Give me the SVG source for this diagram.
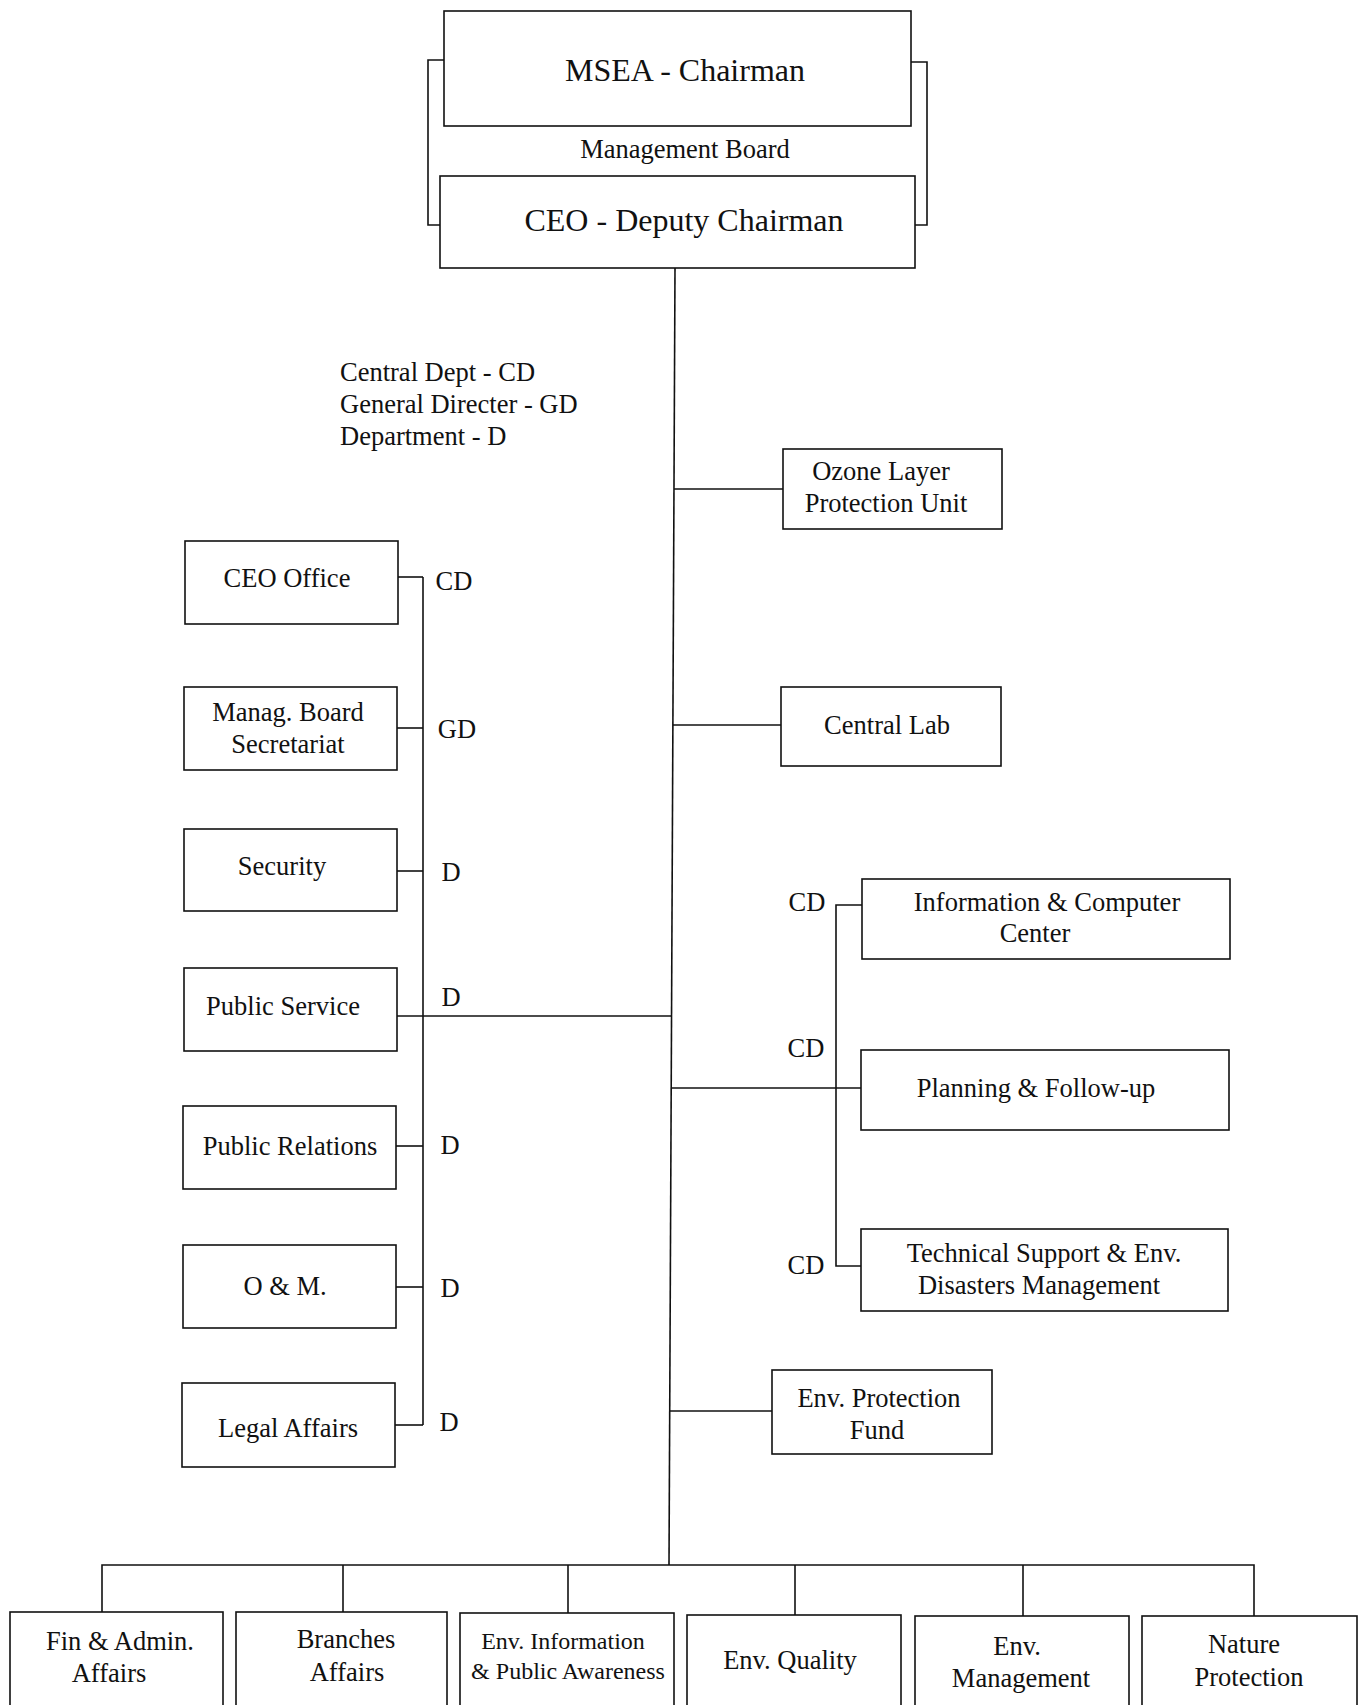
<svg xmlns="http://www.w3.org/2000/svg" width="1366" height="1705" viewBox="0 0 1366 1705">
<style>
.box{fill:#fff;stroke:#111;stroke-width:1.6}
.ln{fill:none;stroke:#111;stroke-width:1.6}
text{font-family:"Liberation Serif","Times New Roman",serif;fill:#111;text-anchor:middle}
.t{font-size:26.5px}
.s{font-size:24px}
.big{font-size:32px}
.lab{font-size:26.5px;text-anchor:start}
</style>
<rect width="1366" height="1705" fill="#fff"/>
<g id="connectors">
<path class="ln" d="M444 60 H428 V225 H440"/>
<path class="ln" d="M911 62 H927 V225 H915"/>
<path class="ln" d="M675 268 L669 1565"/>
<path class="ln" d="M674 489 H783"/>
<path class="ln" d="M673 725 H781"/>
<path class="ln" d="M423 577 V1425"/>
<path class="ln" d="M398 577 H423"/>
<path class="ln" d="M397 728 H423"/>
<path class="ln" d="M397 871 H423"/>
<path class="ln" d="M397 1016 H672"/>
<path class="ln" d="M396 1146 H423"/>
<path class="ln" d="M396 1287 H423"/>
<path class="ln" d="M395 1425 H423"/>
<path class="ln" d="M672 1088 H861"/>
<path class="ln" d="M862 905 H836 V1266 H861"/>
<path class="ln" d="M670 1411 H772"/>
<path class="ln" d="M102 1612 V1565 H1254 V1616"/>
<path class="ln" d="M343 1565 V1612"/>
<path class="ln" d="M568 1565 V1613"/>
<path class="ln" d="M795 1565 V1615"/>
<path class="ln" d="M1023 1565 V1616"/>
</g>
<g id="msea"><rect class="box" x="444" y="11" width="467" height="115"/><text class="big" x="685" y="81">MSEA - Chairman</text></g>
<g id="mgmt-board"><text class="t" x="685" y="158">Management Board</text></g>
<g id="ceo"><rect class="box" x="440" y="176" width="475" height="92"/><text class="big" x="684" y="231">CEO - Deputy Chairman</text></g>
<g id="legend">
<text class="lab" x="340" y="381">Central Dept - CD</text>
<text class="lab" x="340" y="413">General Directer - GD</text>
<text class="lab" x="340" y="445">Department - D</text>
</g>
<g id="ozone"><rect class="box" x="783" y="449" width="219" height="80"/><text class="t" x="881" y="480">Ozone Layer</text><text class="t" x="886" y="512">Protection Unit</text></g>
<g id="central-lab"><rect class="box" x="781" y="687" width="220" height="79"/><text class="t" x="887" y="734">Central Lab</text></g>
<g id="ceo-office"><rect class="box" x="185" y="541" width="213" height="83"/><text class="t" x="287" y="587">CEO Office</text><text class="t" x="454" y="590">CD</text></g>
<g id="secretariat"><rect class="box" x="184" y="687" width="213" height="83"/><text class="t" x="288" y="721">Manag. Board</text><text class="t" x="288" y="753">Secretariat</text><text class="t" x="457" y="738">GD</text></g>
<g id="security"><rect class="box" x="184" y="829" width="213" height="82"/><text class="t" x="282" y="875">Security</text><text class="t" x="451" y="881">D</text></g>
<g id="public-service"><rect class="box" x="184" y="968" width="213" height="83"/><text class="t" x="283" y="1015">Public Service</text><text class="t" x="451" y="1006">D</text></g>
<g id="public-relations"><rect class="box" x="183" y="1106" width="213" height="83"/><text class="t" x="290" y="1155">Public Relations</text><text class="t" x="450" y="1154">D</text></g>
<g id="om"><rect class="box" x="183" y="1245" width="213" height="83"/><text class="t" x="285" y="1295">O &amp; M.</text><text class="t" x="450" y="1297">D</text></g>
<g id="legal"><rect class="box" x="182" y="1383" width="213" height="84"/><text class="t" x="288" y="1437">Legal Affairs</text><text class="t" x="449" y="1431">D</text></g>
<g id="info-computer"><rect class="box" x="862" y="879" width="368" height="80"/><text class="t" x="1047" y="911">Information &amp; Computer</text><text class="t" x="1035" y="942">Center</text><text class="t" x="807" y="911">CD</text></g>
<g id="planning"><rect class="box" x="861" y="1050" width="368" height="80"/><text class="t" x="1036" y="1097">Planning &amp; Follow-up</text><text class="t" x="806" y="1057">CD</text></g>
<g id="tech-support"><rect class="box" x="861" y="1229" width="367" height="82"/><text class="t" x="1044" y="1262">Technical Support &amp; Env.</text><text class="t" x="1039" y="1294">Disasters Management</text><text class="t" x="806" y="1274">CD</text></g>
<g id="env-fund"><rect class="box" x="772" y="1370" width="220" height="84"/><text class="t" x="879" y="1407">Env. Protection</text><text class="t" x="877" y="1439">Fund</text></g>
<g id="fin-admin"><rect class="box" x="10" y="1612" width="213" height="100"/><text class="t" x="120" y="1650">Fin &amp; Admin.</text><text class="t" x="109" y="1682">Affairs</text></g>
<g id="branches"><rect class="box" x="236" y="1612" width="211" height="100"/><text class="t" x="346" y="1648">Branches</text><text class="t" x="347" y="1681">Affairs</text></g>
<g id="env-info"><rect class="box" x="460" y="1613" width="214" height="100"/><text class="s" x="563" y="1649">Env. Information</text><text class="s" x="568" y="1679">&amp; Public Awareness</text></g>
<g id="env-quality"><rect class="box" x="687" y="1615" width="214" height="100"/><text class="t" x="790" y="1669">Env. Quality</text></g>
<g id="env-management"><rect class="box" x="915" y="1616" width="214" height="100"/><text class="t" x="1017" y="1655">Env.</text><text class="t" x="1021" y="1687">Management</text></g>
<g id="nature"><rect class="box" x="1142" y="1616" width="215" height="100"/><text class="t" x="1244" y="1653">Nature</text><text class="t" x="1249" y="1686">Protection</text></g>
</svg>
